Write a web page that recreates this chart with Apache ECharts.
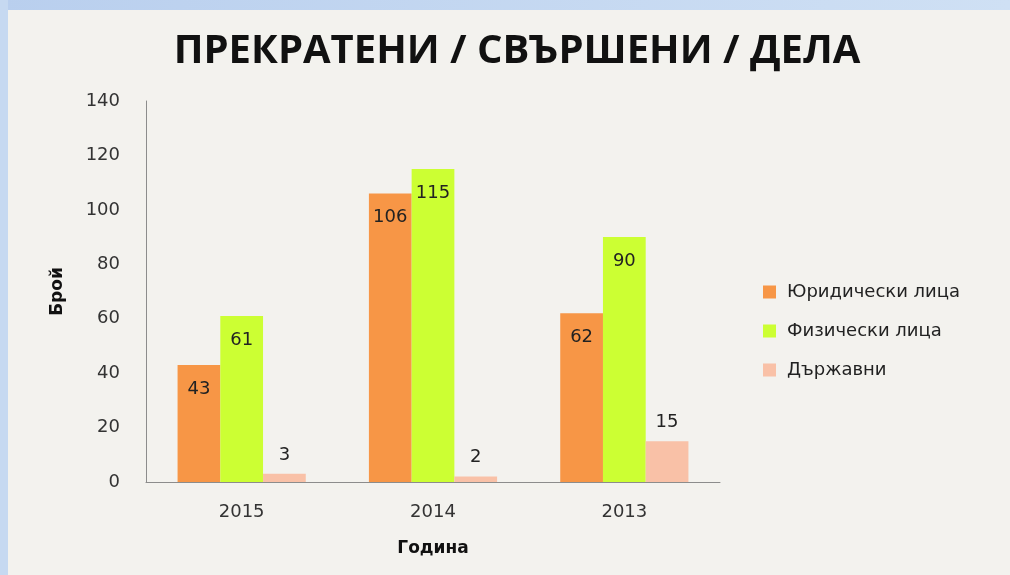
<!DOCTYPE html>
<html><head><meta charset="utf-8">
<script src="https://cdn.jsdelivr.net/npm/echarts@6/dist/echarts.min.js"></script>
<style>html,body{margin:0;padding:0;background:#f3f2ee}#c{width:1010px;height:575px}</style>
</head><body><div id="c"></div>
<script>
const categories = ['2015', '2014', '2013'];
const legalEntities = [43, 106, 62];
const individuals = [61, 115, 90];
const stateBodies = [3, 2, 15];
const seriesNames = ['Юридически лица', 'Физически лица', 'Държавни'];

const chart = echarts.init(document.getElementById('c'));
const FONT = 'DejaVu Sans';
const lbl = {fontFamily: FONT, fontSize: 18, color: '#222'};
chart.setOption({
  backgroundColor: '#f3f2ee',
  animation: false,
  graphic: [
    {type: 'rect', left: 0, top: 0, shape: {width: 1010, height: 10}, style: {fill: new echarts.graphic.LinearGradient(0,0,1,0,[{offset:0,color:'#b9cfee'},{offset:1,color:'#cfe0f4'}])}},
    {type: 'rect', left: 0, top: 0, shape: {width: 8, height: 575}, style: {fill: '#c6d9f1'}}
  ],
  title: {
    text: 'ПРЕКРАТЕНИ / СВЪРШЕНИ / ДЕЛА',
    left: 512, top: 27, textAlign: 'center',
    textStyle: {fontFamily: 'Open Sans', fontWeight: 'bold', fontSize: 40, color: '#111'}
  },
  legend: {
    orient: 'vertical', left: 758, top: 278, itemGap: 21,
    itemWidth: 13, itemHeight: 13, icon: 'rect',
    textStyle: {fontFamily: FONT, fontSize: 18, color: '#222', padding: [0, 0, 0, 6]},
    data: seriesNames
  },
  grid: {left: 146, right: 290, top: 101, bottom: 93},
  xAxis: {
    type: 'category', data: categories,
    name: 'Година', nameLocation: 'middle', nameGap: 58,
    nameTextStyle: {fontFamily: FONT, fontWeight: 'bold', fontSize: 17, color: '#111'},
    axisLine: {lineStyle: {color: '#8c8c8c'}}, axisTick: {show: false},
    axisLabel: {fontFamily: FONT, fontSize: 18, color: '#333', margin: 21}
  },
  yAxis: {
    type: 'value', min: 0, max: 140, interval: 20,
    name: 'Брой', nameLocation: 'middle', nameGap: 80,
    nameTextStyle: {fontFamily: FONT, fontWeight: 'bold', fontSize: 17, color: '#111'},
    axisLine: {show: true, lineStyle: {color: '#8c8c8c'}}, axisTick: {show: false},
    splitLine: {show: false},
    axisLabel: {fontFamily: FONT, fontSize: 18, color: '#333', margin: 26}
  },
  series: [
    {name: seriesNames[0], type: 'bar', data: legalEntities, barGap: '0%', barCategoryGap: '33%',
     itemStyle: {color: '#f79646'}, label: Object.assign({show: true, position: 'insideTop', distance: 15}, lbl)},
    {name: seriesNames[1], type: 'bar', data: individuals, barGap: '0%', barCategoryGap: '33%',
     itemStyle: {color: '#ccff33'}, label: Object.assign({show: true, position: 'insideTop', distance: 15}, lbl)},
    {name: seriesNames[2], type: 'bar', data: stateBodies, barGap: '0%', barCategoryGap: '33%',
     itemStyle: {color: '#f9c1a7'}, label: Object.assign({show: true, position: 'top', distance: 10}, lbl)}
  ]
});
</script></body></html>
